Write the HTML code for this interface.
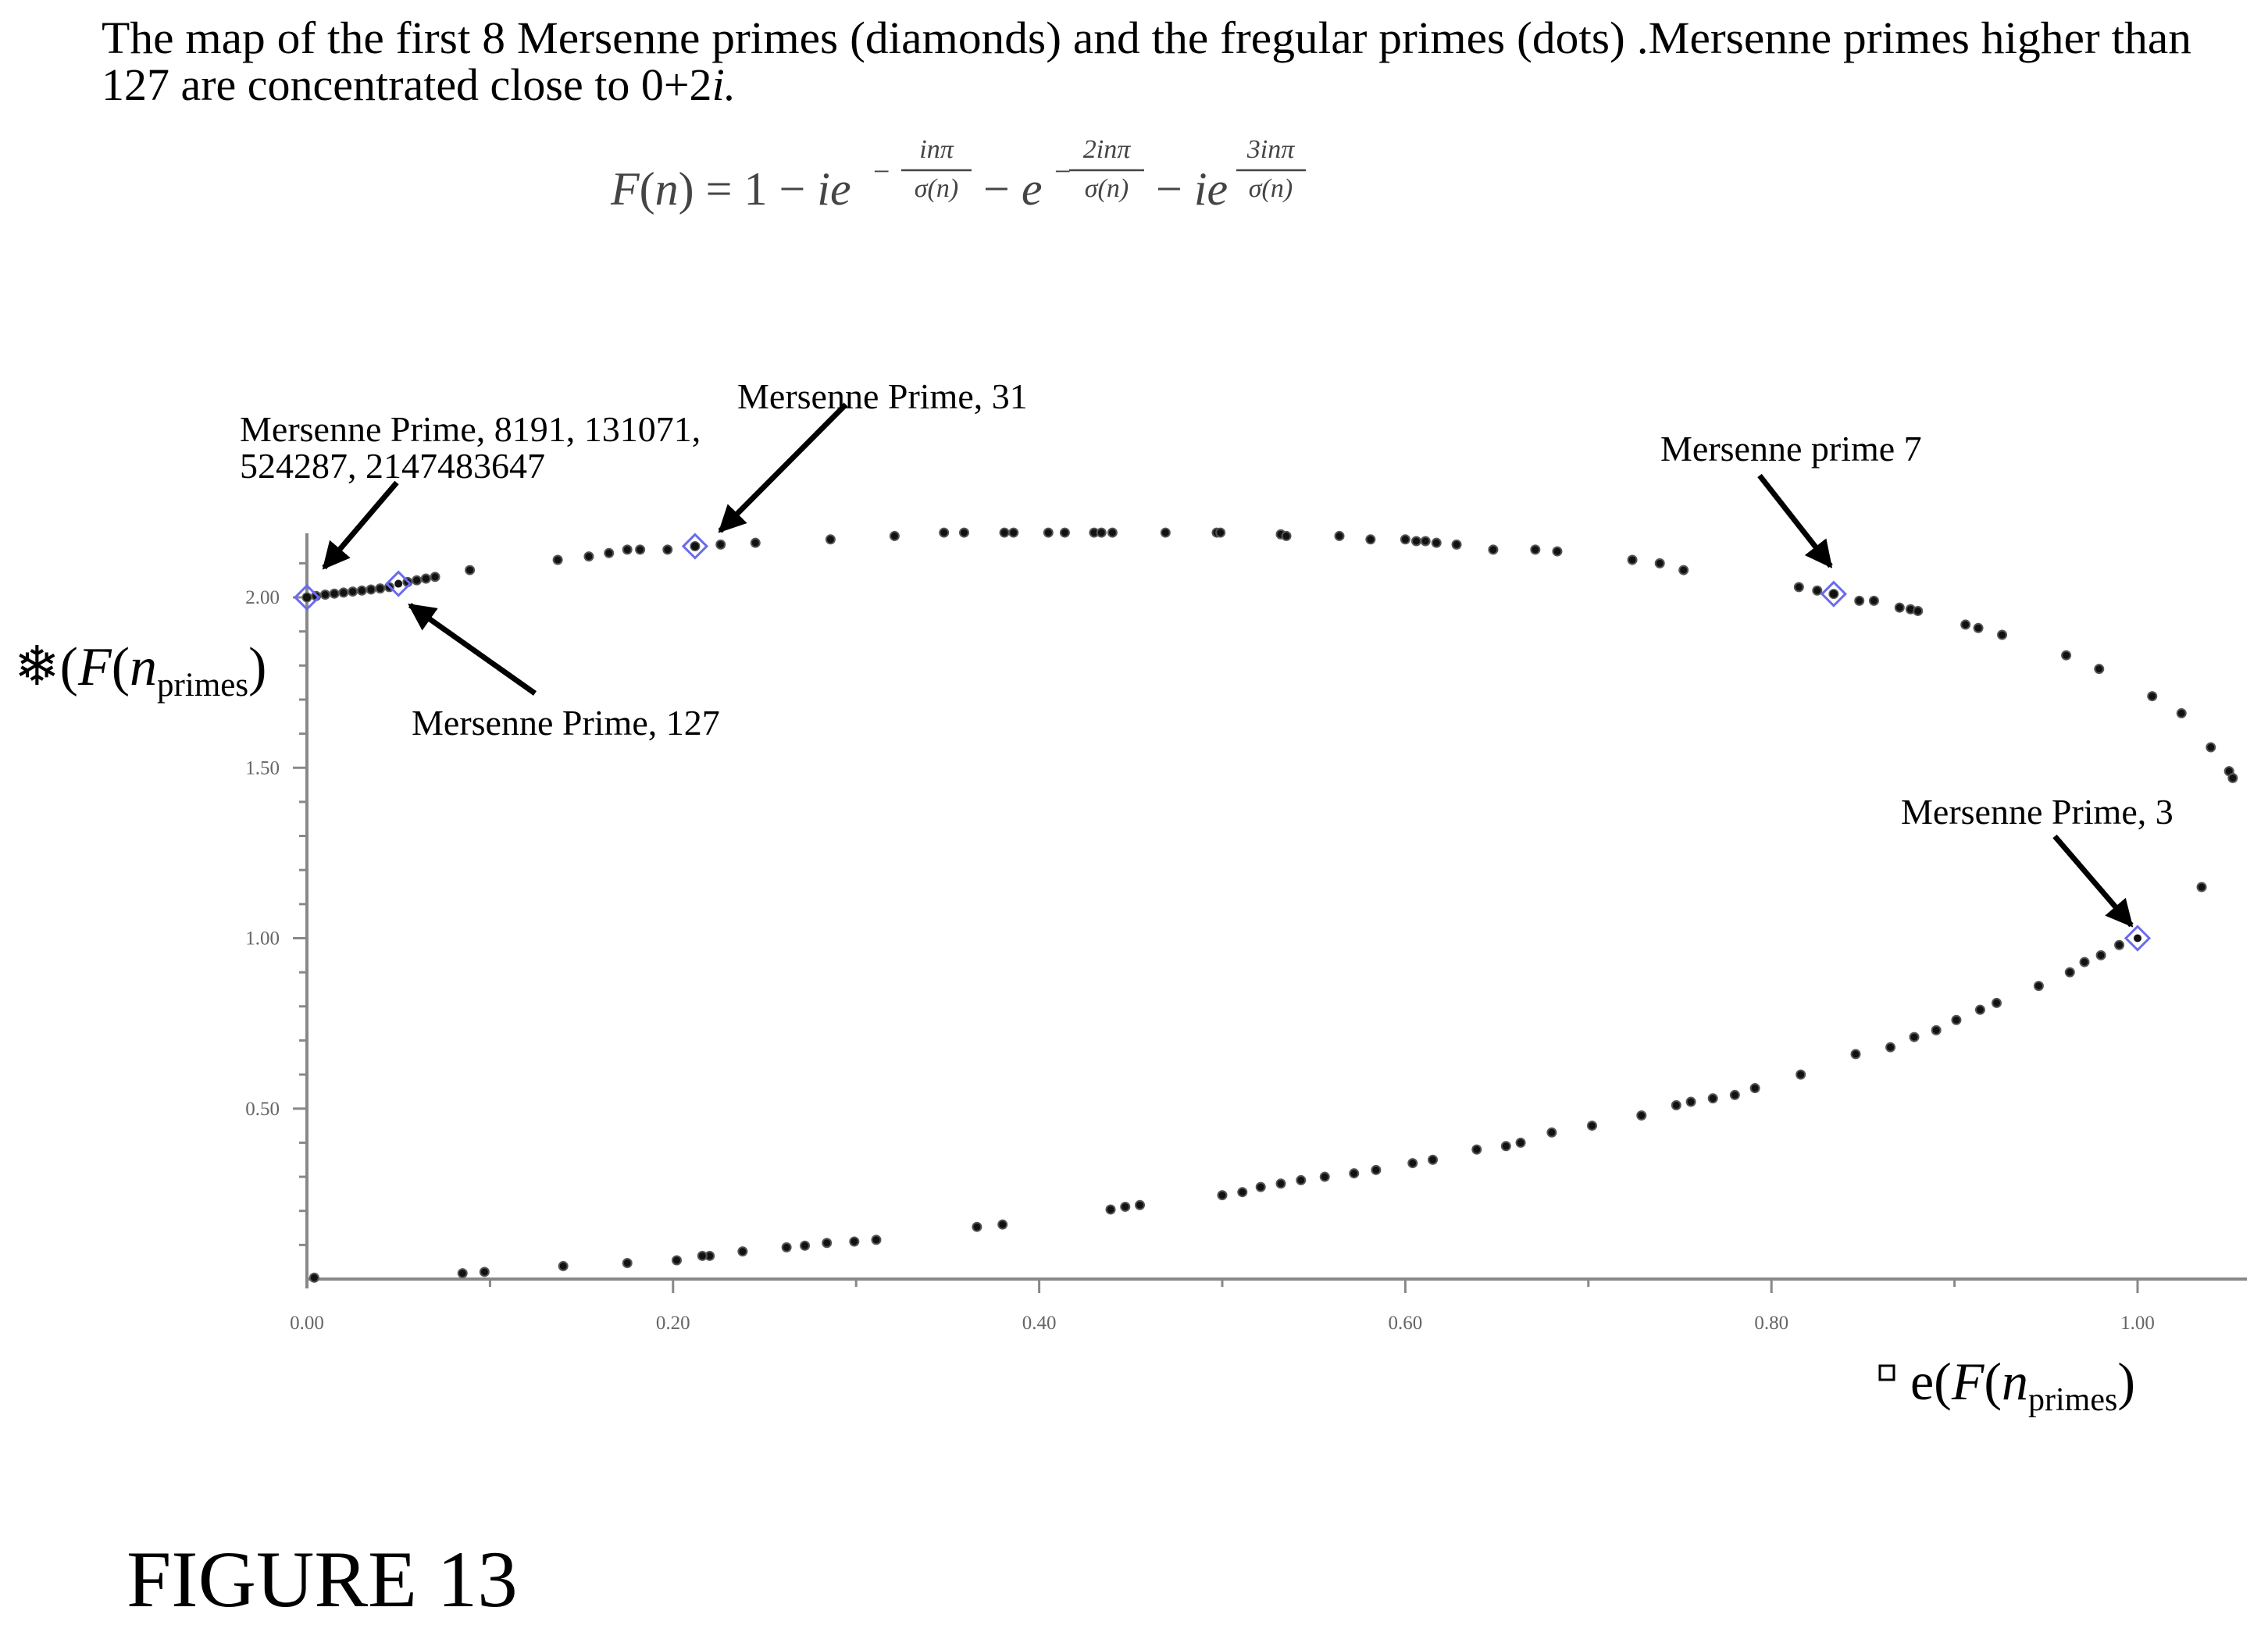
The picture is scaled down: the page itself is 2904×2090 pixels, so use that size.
<!DOCTYPE html>
<html><head><meta charset="utf-8"><style>
html,body{margin:0;padding:0;background:#fff;}
svg{display:block;}
text{font-family:"Liberation Serif","DejaVu Serif",serif;}
</style></head>
<body>
<svg id="chart" width="2904" height="2090" viewBox="0 0 2904 2090" xmlns="http://www.w3.org/2000/svg">
<defs><marker id="ah" viewBox="0 0 10 10" refX="9" refY="5" markerWidth="5" markerHeight="5" orient="auto"><path d="M0,0 L10,5 L0,10 z" fill="#000"/></marker></defs>
<g font-size="58" fill="#000">
<text x="130" y="68" textLength="2676" lengthAdjust="spacingAndGlyphs">The map of the first 8 Mersenne primes (diamonds) and the fregular primes (dots) .Mersenne primes higher than</text>
<text x="130" y="128">127 are concentrated close to 0+2<tspan font-style="italic">i.</tspan></text>
</g>
<g fill="#444" font-size="60" font-family="Liberation Serif, serif">
<text x="782" y="262"><tspan font-style="italic">F</tspan>(<tspan font-style="italic">n</tspan>) = 1 − <tspan font-style="italic">ie</tspan></text>
<text x="1118" y="232" font-size="38">−</text>
<text x="1199" y="202" font-size="34" font-style="italic" text-anchor="middle">inπ</text>
<line x1="1154" y1="218" x2="1244" y2="218" stroke="#444" stroke-width="2.5"/>
<text x="1199" y="252" font-size="34" font-style="italic" text-anchor="middle">σ(n)</text>
<text x="1259" y="262">− <tspan font-style="italic">e</tspan></text>
<text x="1350" y="232" font-size="38">−</text>
<text x="1417" y="202" font-size="34" font-style="italic" text-anchor="middle">2inπ</text>
<line x1="1369" y1="218" x2="1465" y2="218" stroke="#444" stroke-width="2.5"/>
<text x="1417" y="252" font-size="34" font-style="italic" text-anchor="middle">σ(n)</text>
<text x="1480" y="262">− <tspan font-style="italic">ie</tspan></text>
<text x="1627" y="202" font-size="34" font-style="italic" text-anchor="middle">3inπ</text>
<line x1="1583" y1="218" x2="1672" y2="218" stroke="#444" stroke-width="2.5"/>
<text x="1627" y="252" font-size="34" font-style="italic" text-anchor="middle">σ(n)</text>
</g>
<g id="axes"></g>
<g id="points"></g>
<g id="diamonds"></g>
<g font-size="46" fill="#000">
<text x="307" y="565">Mersenne Prime, 8191, 131071,</text>
<text x="307" y="612">524287, 2147483647</text>
<text x="944" y="523">Mersenne Prime, 31</text>
<text x="2126" y="590">Mersenne prime 7</text>
<text x="527" y="941">Mersenne Prime, 127</text>
<text x="2434" y="1055">Mersenne Prime, 3</text>
<g stroke="#000" stroke-width="7" marker-end="url(#ah)">
<line x1="508" y1="618" x2="415" y2="727"/>
<line x1="1083" y1="518" x2="922" y2="680"/>
<line x1="2253" y1="609" x2="2344" y2="725"/>
<line x1="685" y1="888" x2="525" y2="775"/>
<line x1="2631" y1="1071" x2="2729" y2="1185"/>
</g>
</g>
<g>
<text x="18" y="877" font-size="70">❄(<tspan font-style="italic">F</tspan>(<tspan font-style="italic">n</tspan><tspan font-size="43" dy="14">primes</tspan><tspan dy="-14">)</tspan></text>
</g>
<g>
<rect x="2407" y="1749" width="18" height="18" fill="none" stroke="#000" stroke-width="3"/>
<text x="2446" y="1792" font-size="68">e(<tspan font-style="italic">F</tspan>(<tspan font-style="italic">n</tspan><tspan font-size="42" dy="14">primes</tspan><tspan dy="-14">)</tspan></text>
</g>
<text x="162" y="2057" font-size="103">FIGURE 13</text>
</svg>
<script>
const upperX=[0,0.005,0.01,0.015,0.02,0.025,0.03,0.035,0.04,0.045,0.055,0.06,0.065,0.07,0.089,0.137,0.154,0.165,0.175,0.182,0.197,0.212,0.226,0.245,0.286,0.321,0.348,0.359,0.381,0.386,0.405,0.414,0.43,0.434,0.44,0.469,0.497,0.499,0.532,0.535,0.564,0.581,0.6,0.606,0.611,0.617,0.628,0.648,0.671,0.683,0.724,0.739,0.752,0.815,0.825,0.834,0.848,0.856,0.87,0.876,0.88,0.906,0.913,0.926,0.961,0.979,1.008,1.024,1.04,1.05,1.052,1.035];
const upperY=[2.0,2.004,2.008,2.011,2.014,2.017,2.02,2.023,2.026,2.03,2.045,2.05,2.055,2.06,2.08,2.11,2.12,2.13,2.14,2.14,2.14,2.15,2.155,2.16,2.17,2.18,2.19,2.19,2.19,2.19,2.19,2.19,2.19,2.19,2.19,2.19,2.19,2.19,2.185,2.18,2.18,2.17,2.17,2.165,2.165,2.16,2.155,2.14,2.14,2.135,2.11,2.10,2.08,2.03,2.02,2.01,1.99,1.99,1.97,1.965,1.96,1.92,1.91,1.89,1.83,1.79,1.71,1.66,1.56,1.49,1.47,1.15];
const lowerX=[0.99,0.98,0.971,0.963,0.946,0.923,0.914,0.901,0.89,0.878,0.865,0.846,0.816,0.791,0.78,0.768,0.756,0.748,0.729,0.702,0.68,0.663,0.655,0.639,0.615,0.604,0.584,0.572,0.556,0.543,0.532,0.521,0.511,0.5,0.455,0.447,0.439,0.38,0.366,0.311,0.299,0.284,0.272,0.262,0.238,0.22,0.216,0.202,0.175,0.14,0.097,0.085,0.004];
const lowerY=[0.98,0.95,0.93,0.9,0.86,0.81,0.79,0.76,0.73,0.71,0.68,0.66,0.6,0.56,0.54,0.53,0.52,0.51,0.48,0.45,0.43,0.4,0.39,0.38,0.35,0.34,0.32,0.31,0.3,0.29,0.28,0.27,0.255,0.246,0.217,0.212,0.204,0.16,0.153,0.115,0.11,0.106,0.098,0.093,0.081,0.068,0.068,0.055,0.047,0.038,0.021,0.017,0.004];
const mersenneX=[0,0.05,0.212,0.834,1.0];
const mersenneY=[2.0,2.04,2.15,2.01,1.0];
const xTickLabels=["0.00","0.20","0.40","0.60","0.80","1.00"];
const yTickLabels=["0.50","1.00","1.50","2.00"];

const NS="http://www.w3.org/2000/svg";
const X0=393,X1=2737,Y0=1638,Y2=765;
function sx(v){return X0+(X1-X0)*v;}
function sy(v){return Y0-(Y0-Y2)/2*v;}
function mk(tag,attrs,parent){const e=document.createElementNS(NS,tag);for(const k in attrs)e.setAttribute(k,attrs[k]);parent.appendChild(e);return e;}
const axes=document.getElementById('axes');
let l=mk('line',{x1:X0,y1:Y0,x2:2877,y2:Y0,stroke:'#888','stroke-width':4},axes);


l=mk('line',{x1:X0,y1:683,x2:X0,y2:Y0+12,stroke:'#888','stroke-width':4},axes);


for(let i=1;i<=10;i++){const x=sx(i/10);const major=i%2===0;
 const t=mk('line',{x1:x,y1:Y0,x2:x,y2:Y0+(major?18:10),stroke:'#888','stroke-width':3},axes);
 
 }
xTickLabels.forEach((s,i)=>{const t=mk('text',{x:sx(i*0.2),y:1702,'font-size':25,fill:'#666','text-anchor':'middle','font-family':'Liberation Sans Narrow, Liberation Sans, sans-serif'},axes);t.textContent=s;
 
 });
for(let i=1;i<=21;i++){const y=sy(i/10);if(y<683)continue;const major=i%5===0;
 const t=mk('line',{x1:X0-(major?18:10),y1:y,x2:X0,y2:y,stroke:'#888','stroke-width':3},axes);
 
 }
yTickLabels.forEach((s,i)=>{const t=mk('text',{x:358,y:sy((i+1)*0.5)+8,'font-size':25,fill:'#666','text-anchor':'end','font-family':'Liberation Sans Narrow, Liberation Sans, sans-serif'},axes);t.textContent=s;
 
 });
const pts=document.getElementById('points');
function dot(x,y){const c=mk('circle',{cx:sx(x),cy:sy(y),r:5.5,fill:'#111',stroke:'#555','stroke-width':2},pts);
 
 }
upperX.forEach((x,i)=>dot(x,upperY[i]));
lowerX.forEach((x,i)=>dot(x,lowerY[i]));
const dg=document.getElementById('diamonds');
mersenneX.forEach((x,i)=>{const cx=sx(x),cy=sy(mersenneY[i]),r=15;
 const p=mk('polygon',{points:`${cx},${cy-r} ${cx+r},${cy} ${cx},${cy+r} ${cx-r},${cy}`,fill:'none',stroke:'#6a6af0','stroke-width':3},dg);
 
 
 const c=mk('circle',{cx:cx,cy:cy,r:5,fill:'#111'},dg);
 
 });
</script>
</body></html>
